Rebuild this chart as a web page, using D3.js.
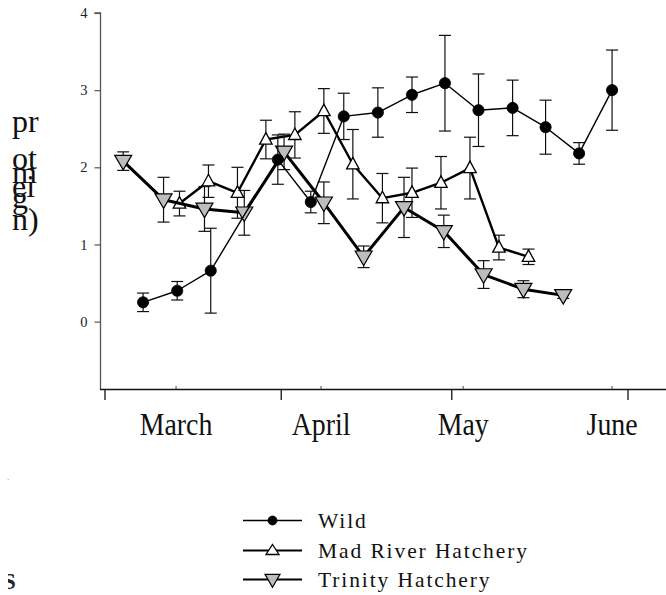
<!DOCTYPE html>
<html>
<head>
<meta charset="utf-8">
<script src="https://cdn.jsdelivr.net/npm/d3@7"></script>
<style>
  html, body { margin: 0; padding: 0; background: #fff; }
  svg { display: block; }
  text { font-family: "Liberation Serif", "Times New Roman", serif; }
</style>
</head>
<body>
<svg id="chart" width="666" height="595"></svg>
<script>
// ---- data (x = days after 1 March) ----
const wildDay  = [6.7, 12.7, 18.6, 30.4, 36.2, 42.0, 48.0, 54.0, 59.8, 65.7, 71.7, 77.5, 83.4, 89.2];
const wildMean = [0.25, 0.40, 0.66, 2.10, 1.55, 2.66, 2.71, 2.94, 3.09, 2.74, 2.77, 2.52, 2.18, 3.00];
const wildErr  = [0.12, 0.12, 0.55, 0.32, 0.14, 0.30, 0.32, 0.23, 0.62, 0.47, 0.36, 0.35, 0.14, 0.52];

const madDay  = [13.1, 18.2, 23.3, 28.3, 33.4, 38.5, 43.6, 48.8, 54.0, 59.1, 64.2, 69.3, 74.5];
const madMean = [1.53, 1.82, 1.67, 2.36, 2.42, 2.73, 2.04, 1.60, 1.67, 1.80, 1.99, 0.96, 0.84];
const madErr  = [0.16, 0.21, 0.33, 0.25, 0.30, 0.29, 0.45, 0.32, 0.32, 0.34, 0.40, 0.16, 0.10];

const trinDay  = [3.2, 10.3, 17.5, 24.5, 31.5, 38.5, 45.5, 52.6, 59.6, 66.6, 73.6, 80.6];
const trinMean = [2.08, 1.58, 1.46, 1.41, 2.20, 1.54, 0.84, 1.48, 1.17, 0.61, 0.42, 0.34];
const trinErr  = [0.12, 0.29, 0.29, 0.29, 0.23, 0.27, 0.14, 0.39, 0.21, 0.18, 0.11, 0.04];

const monthLabels = ["March", "April", "May", "June"];
const labelDays = [12.5, 38.0, 63.0, 89.2];
const majorTickDays = [0, 31, 61, 92];
const yTicks = [0, 1, 2, 3, 4];
const yTitleParts = ["pr", "ot", "m", "ei", "g", "n)"];
const seriesNames = ["Wild", "Mad River Hatchery", "Trinity Hatchery"];

// ---- layout ----
const svg = d3.select("#chart");
const W = 666;
const x = d3.scaleLinear().domain([0, 92]).range([105, 628]);
const y = d3.scaleLinear().domain([-0.88, 4]).range([389.5, 13]);
const axisLeftX = 100.5;

// y axis
const yAxis = d3.axisLeft(y).tickValues(yTicks).tickSize(6).tickPadding(7).tickFormat(d3.format("d"));
const gy = svg.append("g").attr("transform", `translate(${axisLeftX},0)`).call(yAxis);
gy.attr("font-family", null).attr("font-size", null);
gy.select(".domain").attr("stroke", "#555").attr("stroke-width", 1.3)
  .attr("d", `M-6,${y(4)}H0V${y.range()[0]}`);
gy.selectAll(".tick line").attr("stroke", "#555").attr("stroke-width", 1.2);
gy.selectAll(".tick text").style("font-family", '"Liberation Serif", serif').style("font-size", "14.5px").attr("fill", "#222");

// x axis
svg.append("line").attr("x1", axisLeftX - 0.5).attr("x2", W).attr("y1", 389.5).attr("y2", 389.5)
  .attr("stroke", "#111").attr("stroke-width", 1.6);
svg.selectAll(".xmajor").data(majorTickDays).enter().append("line")
  .attr("x1", d => x(d)).attr("x2", d => x(d)).attr("y1", 389.5).attr("y2", 400)
  .attr("stroke", "#111").attr("stroke-width", 1.3);
svg.selectAll(".xminor").data(labelDays).enter().append("line")
  .attr("x1", d => x(d)).attr("x2", d => x(d)).attr("y1", 389.5).attr("y2", 386)
  .attr("stroke", "#444").attr("stroke-width", 1);
svg.selectAll(".xlab").data(monthLabels).enter().append("text")
  .attr("transform", (d, i) => `translate(${x(labelDays[i])},434.5) scale(0.87,1)`)
  .attr("text-anchor", "middle").attr("font-size", 32).attr("fill", "#111")
  .text(d => d);

// y title fragments (the original title is wrapped into overlapping fragments)
const titleBase = [131.5, 169, 183, 196.5, 208, 229.5];
svg.selectAll(".ytitle").data(yTitleParts).enter().append("text")
  .attr("x", 12).attr("y", (d, i) => titleBase[i])
  .attr("font-size", 32).attr("fill", "#111").text(d => d);

// stray marks at lower left (partly hidden glyph)
svg.append("clipPath").attr("id", "sclip").append("rect")
  .attr("x", 8).attr("y", 560).attr("width", 20).attr("height", 35);
svg.append("text").attr("x", 7).attr("y", 480).attr("font-size", 9).attr("fill", "#777").text(".");
svg.append("text").attr("x", 3).attr("y", 589).attr("font-size", 23).attr("font-weight", "bold")
  .attr("fill", "#222").attr("clip-path", "url(#sclip)").text("S");

// ---- series ----
const series = [
  { name: seriesNames[1], day: madDay, mean: madMean, err: madErr, lw: 2.4, sym: "up" },
  { name: seriesNames[2], day: trinDay, mean: trinMean, err: trinErr, lw: 3.0, sym: "down" },
  { name: seriesNames[0], day: wildDay, mean: wildMean, err: wildErr, lw: 1.4, sym: "circle" }
];

function triPath(cx, cy, w, h, up) {
  if (up) return `M${cx},${cy - h * 0.6}L${cx + w / 2},${cy + h * 0.4}L${cx - w / 2},${cy + h * 0.4}Z`;
  return `M${cx},${cy + h * 0.6}L${cx + w / 2},${cy - h * 0.4}L${cx - w / 2},${cy - h * 0.4}Z`;
}

function drawMarker(g, sym, cx, cy, legend) {
  if (sym === "circle") {
    g.append("circle").attr("cx", cx).attr("cy", cy).attr("r", legend ? 4.5 : 5.6)
      .attr("fill", "#000").attr("stroke", "#000").attr("stroke-width", 0.8);
  } else if (sym === "up") {
    g.append("path").attr("d", triPath(cx, cy, legend ? 13 : 12.5, legend ? 10 : 11.5, true))
      .attr("fill", "#fff").attr("stroke", "#000").attr("stroke-width", 1.3);
  } else {
    g.append("path").attr("d", triPath(cx, cy, legend ? 15 : 17, legend ? 13 : 14.5, false))
      .attr("fill", "#bdbdbd").attr("stroke", "#000").attr("stroke-width", 1.2);
  }
}

series.forEach(s => {
  const g = svg.append("g");
  const pts = s.day.map((d, i) => ({ d, m: s.mean[i], e: s.err[i] }));
  // error bars
  pts.forEach(p => {
    g.append("line").attr("x1", x(p.d)).attr("x2", x(p.d)).attr("y1", y(p.m - p.e)).attr("y2", y(p.m + p.e))
      .attr("stroke", "#111").attr("stroke-width", 1.2);
    [p.m - p.e, p.m + p.e].forEach(v => {
      g.append("line").attr("x1", x(p.d) - 6).attr("x2", x(p.d) + 6).attr("y1", y(v)).attr("y2", y(v))
        .attr("stroke", "#111").attr("stroke-width", 1.2);
    });
  });
  // line
  g.append("path").datum(pts)
    .attr("d", d3.line().x(p => x(p.d)).y(p => y(p.m)))
    .attr("fill", "none").attr("stroke", "#000").attr("stroke-width", s.lw).attr("stroke-linejoin", "round");
  pts.forEach(p => drawMarker(g, s.sym, x(p.d), y(p.m), false));
});

// ---- legend ----
const legendRows = [
  { name: seriesNames[0], sym: "circle", lw: 1.3, cy: 520.5 },
  { name: seriesNames[1], sym: "up", lw: 2.0, cy: 550.5 },
  { name: seriesNames[2], sym: "down", lw: 2.0, cy: 579.5 }
];
const lg = svg.append("g");
legendRows.forEach(r => {
  lg.append("line").attr("x1", 243).attr("x2", 302).attr("y1", r.cy).attr("y2", r.cy)
    .attr("stroke", "#000").attr("stroke-width", r.lw);
  drawMarker(lg, r.sym, 272.5, r.cy, true);
  lg.append("text").attr("x", 318).attr("y", r.cy + 7.5).attr("font-size", 21.5)
    .attr("letter-spacing", 1.9).attr("fill", "#111").text(r.name);
});
</script>
</body>
</html>
